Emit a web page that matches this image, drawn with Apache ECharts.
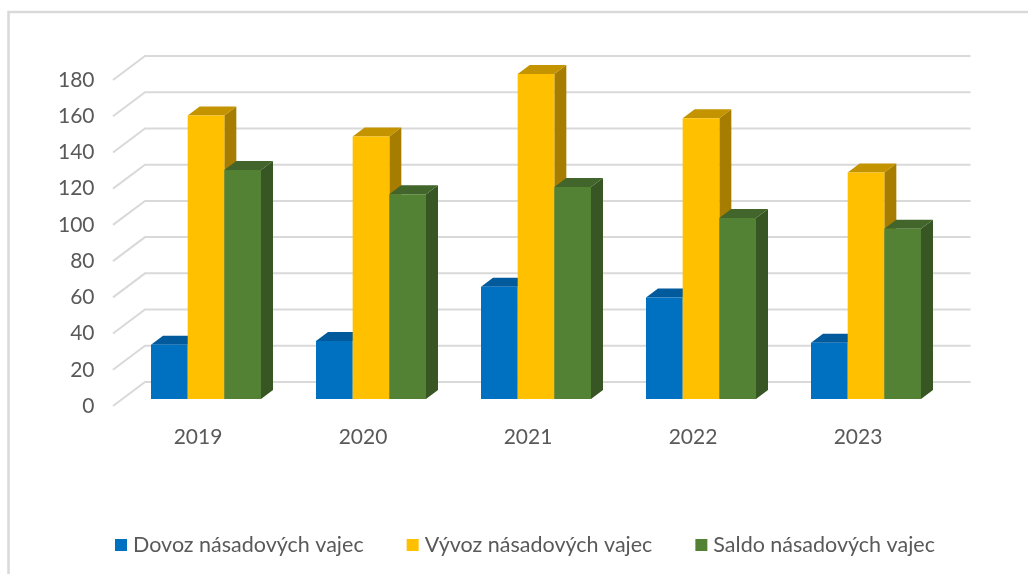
<!DOCTYPE html>
<html>
<head>
<meta charset="utf-8">
<style>
html,body{margin:0;padding:0;background:#fff;}
#c{width:1028px;height:574px;}
</style>
<script src="https://cdn.jsdelivr.net/npm/echarts@6/dist/echarts.min.js"></script>
</head>
<body>
<div id="c"></div>
<script>
const years = ['2019','2020','2021','2022','2023'];
const dovoz = [30,32,62,56,31];
const vyvoz = [156.5,145,179.5,155,125];
const saldo = [126.5,113,117,100,94];
const yTicks = [0,20,40,60,80,100,120,140,160,180];
const seriesNames = ['Dovoz násadových vajec','Vývoz násadových vajec','Saldo násadových vajec'];

const FONT = 'Lato, "Open Sans", sans-serif';
const TEXT = '#595959';
const GRID = '#D9D9D9';
const DX = 12, DY = 9;            // bar depth
const BASE_UP = 7;                // bar floor above the front edge
const BAR_SHARE = 110 / 165 / 3;  // bar width as a share of the band

function barRenderer(slot, front, top, side) {
  return function (params, api) {
    const idx = api.value(0);
    const band = api.size([1, 0])[0];
    const w = band * BAR_SHARE;
    const c = api.coord([idx, 0])[0];
    const yTop = api.coord([idx, api.value(1)])[1] - BASE_UP;
    const yBase = api.coord([idx, 0])[1] - BASE_UP;
    const x0 = c - w * 1.5 + w * slot;
    const x1 = x0 + w;
    return {
      type: 'group',
      children: [
        {type:'polygon', shape:{points:[[x1,yTop],[x1+DX,yTop-DY],[x1+DX,yBase-DY],[x1,yBase]]}, style:{fill:side}},
        {type:'polygon', shape:{points:[[x0,yTop],[x0+DX,yTop-DY],[x1+DX,yTop-DY],[x1,yTop]]}, style:{fill:top}},
        {type:'rect', shape:{x:x0,y:yTop,width:w,height:yBase-yTop}, style:{fill:front}}
      ]
    };
  };
}

function wallRenderer(params, api) {
  const cs = params.coordSys;
  const y = api.coord([0, api.value(1)])[1];
  return {
    type: 'polyline',
    shape: {points: [[cs.x - 10.5, y], [cs.x + 21.5, y - 24], [cs.x + cs.width + 22, y - 24]]},
    style: {stroke: GRID, lineWidth: 2, fill: 'none'}
  };
}

function barData(values) { return values.map((v, i) => [i, v]); }

const chart = echarts.init(document.getElementById('c'), null, {renderer: 'canvas'});
chart.setOption({
  animation: false,
  backgroundColor: '#fff',
  textStyle: {fontFamily: FONT},
  grid: {left: 123.5, width: 825, top: 80, height: 326, containLabel: false},
  legend: {
    show: true,
    data: seriesNames,
    bottom: 13,
    left: 110,
    icon: 'rect',
    itemWidth: 12,
    itemHeight: 12,
    itemGap: 43,
    textStyle: {color: TEXT, fontSize: 21.5, fontFamily: FONT, padding: [0,0,0,1]}
  },
  xAxis: {
    type: 'category',
    data: years,
    axisLine: {show: false},
    axisTick: {show: false},
    splitLine: {show: false},
    axisLabel: {color: TEXT, fontSize: 21, fontFamily: FONT, margin: 21, padding: [0,16,0,0]}
  },
  yAxis: {
    type: 'value',
    min: 0,
    max: 180,
    interval: 20,
    axisLine: {show: false},
    axisTick: {show: false},
    splitLine: {show: false},
    axisLabel: {color: TEXT, fontSize: 21, fontFamily: FONT, margin: 29, padding: [2,0,0,0]}
  },
  graphic: [
    {type:'polyline', silent:true, shape:{points:[[8.5,574],[8.5,12],[1028,12]]}, style:{stroke:'#D9D9D9',lineWidth:2.5,fill:'none'}}
  ],
  series: [
    {type:'custom', name:'wall', silent:true, z:1, renderItem: wallRenderer, encode:{x:0,y:1}, data: yTicks.map(t => [0, t])},
    {type:'custom', name:seriesNames[0], z:2, itemStyle:{color:'#0070C0'}, renderItem: barRenderer(0,'#0070C0','#005A9B','#005A9B'), encode:{x:0,y:1}, data: barData(dovoz)},
    {type:'custom', name:seriesNames[1], z:3, itemStyle:{color:'#FFC000'}, renderItem: barRenderer(1,'#FFC000','#C49400','#A67D00'), encode:{x:0,y:1}, data: barData(vyvoz)},
    {type:'custom', name:seriesNames[2], z:4, itemStyle:{color:'#548235'}, renderItem: barRenderer(2,'#548235','#41652A','#375623'), encode:{x:0,y:1}, data: barData(saldo)}
  ]
});
</script>
</body>
</html>
